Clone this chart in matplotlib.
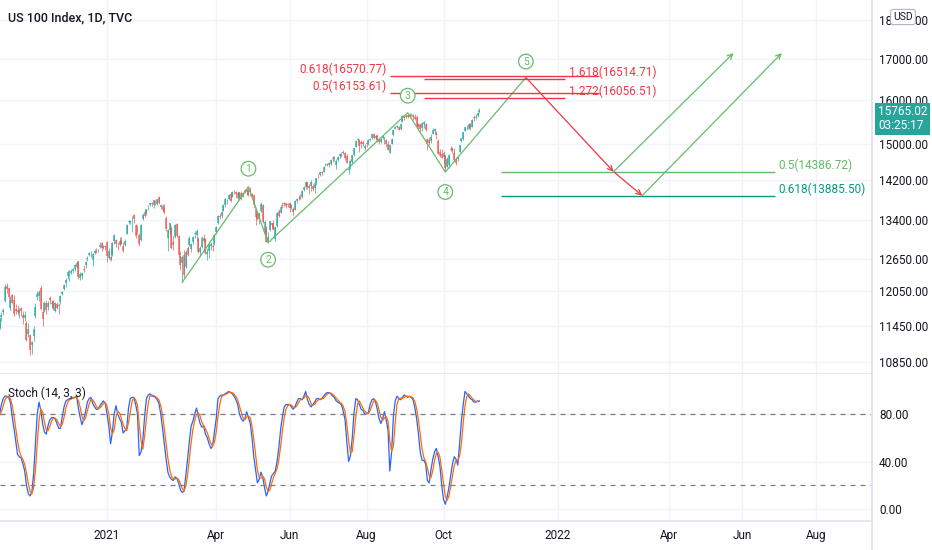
import numpy as np
import pandas as pd
import matplotlib
matplotlib.use("Agg")
import matplotlib.pyplot as plt
from matplotlib.lines import Line2D
from matplotlib.ticker import FixedLocator, NullLocator
from matplotlib.transforms import blended_transform_factory

plt.rcParams["font.family"] = ["Roboto", "DejaVu Sans"]

# --- trading calendar (daily bars, NYSE holidays) ---
HOLIDAYS = ["2020-11-26", "2020-12-25", "2021-01-01", "2021-01-18", "2021-02-15",
            "2021-04-02", "2021-05-31", "2021-07-05", "2021-09-06", "2021-11-25",
            "2021-12-24", "2022-01-17", "2022-02-21", "2022-04-15", "2022-05-30",
            "2022-06-20", "2022-07-04"]
dates = pd.bdate_range("2020-10-06", "2022-09-30", freq="C", holidays=HOLIDAYS)

# --- US 100 daily OHLC, Oct 2020 .. Oct 2021 ---
opens = [
    11560, 11420, 11600, 11680, 11880, 12140, 12110, 11750, 11980, 11890, 11740, 11720, 11670, 11760, 11640, 11580, 11500, 11320, 11300,
    11130, 11270, 11620, 11950, 11970, 12110, 11680, 11700, 11840, 11780, 11940, 11820, 11870, 11700, 11830, 11800, 11860, 12000, 12100, 12200,
    12320, 12390, 12390, 12420, 12450, 12500, 12600, 12290, 12330, 12450, 12520, 12650, 12710, 12760, 12620, 12760, 12800, 12790, 12860, 12940, 12890, 12860,
    12960, 12660, 12680, 12720, 12990, 13000, 12910, 12900, 13010, 12890, 12910, 13120, 13350, 13350, 13430, 13500, 13300, 13190, 13100,
    13010, 13410, 13560, 13540, 13650, 13700, 13710, 13790, 13760, 13720, 13850, 13660, 13680, 13640, 13440, 13040, 13190, 13240, 12970,
    13060, 13320, 13070, 12700, 12560, 12720, 12500, 12850, 12900, 12830, 12960, 13120, 13100, 13030, 12780, 12870, 13050, 13020, 12740, 12800, 12880, 12880, 12920,
    13160, 13330, 13480, 13470, 13580, 13700, 13780, 13820, 13920, 13860, 13990, 13950, 13930, 13840, 13940, 13860, 13960, 14000, 13980, 14030, 13910,
    13890, 13620, 13510, 13410, 13580, 13690, 13140, 13230, 13010, 13200, 13330, 13330, 13030, 13270, 13570, 13540, 13700, 13710, 13730, 13720,
    13730, 13640, 13620, 13600, 13770, 13840, 13860, 13850, 14010, 14070, 14160, 14080, 14090, 14080, 14040, 14140, 14280, 14310, 14380, 14380, 14530, 14530,
    14580, 14560, 14680, 14680, 14520, 14640, 14720, 14720, 14810, 14800, 14720, 14430, 14480, 14590, 14750, 14930, 15070, 15080, 15030, 15030, 14900,
    15020, 15010, 15080, 15130, 15210, 15120, 15180, 15090, 15030, 15130, 15120, 15080, 15000, 14800, 15000, 15180, 15330, 15380, 15370, 15320, 15490, 15630,
    15620, 15640, 15610, 15660, 15640, 15590, 15610, 15440, 15430, 15350, 15430, 15450, 15100, 15080, 15050, 15220, 15280, 15240, 15060, 14810, 14770,
    14710, 14740, 14490, 14530, 14860, 14900, 14800, 14650, 14650, 14820, 15060, 15090, 15290, 15380, 15330, 15440, 15380, 15610, 15580, 15620, 15720,
]
highs = [
    11600, 11600, 11680, 11760, 12180, 12200, 12130, 11960, 12010, 11980, 11830, 11810, 11760, 11780, 11700, 11700, 11530, 11500, 11320,
    11200, 11450, 11850, 12050, 12080, 12170, 11720, 11870, 11890, 11880, 11960, 11900, 11900, 11860, 11860, 11850, 11980, 12060, 12180, 12290,
    12430, 12430, 12450, 12470, 12540, 12580, 12610, 12400, 12400, 12520, 12600, 12690, 12770, 12790, 12760, 12830, 12850, 12830, 12960, 12970, 12910, 12900,
    12980, 12840, 12840, 12960, 13110, 13020, 12970, 13060, 13060, 12960, 13020, 13310, 13400, 13390, 13470, 13520, 13310, 13300, 13130,
    13310, 13540, 13590, 13620, 13690, 13740, 13760, 13800, 13790, 13820, 13880, 13720, 13710, 13720, 13480, 13210, 13340, 13280, 13080,
    13310, 13340, 13100, 12800, 12690, 12820, 12820, 12890, 13080, 12940, 13070, 13180, 13220, 13060, 12880, 13070, 13120, 13040, 12840, 12930, 12960, 12920, 13120,
    13270, 13500, 13530, 13570, 13710, 13830, 13820, 13920, 13950, 13990, 14010, 13990, 13980, 13960, 13980, 13960, 14030, 14040, 14070, 14060, 13930,
    13900, 13640, 13570, 13540, 13750, 13710, 13390, 13280, 13160, 13380, 13340, 13400, 13280, 13550, 13620, 13670, 13760, 13760, 13740, 13740,
    13740, 13720, 13650, 13790, 13840, 13890, 13910, 14010, 14080, 14180, 14170, 14120, 14210, 14130, 14150, 14260, 14340, 14380, 14400, 14500, 14580, 14580,
    14590, 14650, 14720, 14720, 14660, 14720, 14780, 14810, 14850, 14810, 14760, 14500, 14650, 14750, 14910, 15070, 15120, 15090, 15080, 15080, 14980,
    15040, 15090, 15130, 15220, 15230, 15170, 15190, 15110, 15120, 15170, 15150, 15090, 15060, 15000, 15130, 15320, 15400, 15410, 15390, 15460, 15640, 15640,
    15660, 15680, 15690, 15700, 15660, 15660, 15640, 15460, 15450, 15480, 15500, 15460, 15120, 15150, 15220, 15340, 15350, 15290, 15100, 14870, 14880,
    14830, 14750, 14710, 14770, 14950, 14920, 14900, 14700, 14740, 14970, 15130, 15260, 15380, 15420, 15460, 15470, 15550, 15650, 15660, 15720, 15800,
]
lows = [
    11340, 11400, 11540, 11640, 11860, 12020, 11900, 11720, 11840, 11620, 11650, 11640, 11580, 11620, 11480, 11540, 11200, 11260, 10960,
    10980, 11200, 11580, 11900, 11880, 11720, 11450, 11690, 11650, 11720, 11820, 11780, 11720, 11680, 11740, 11650, 11830, 11980, 12080, 12120,
    12280, 12240, 12360, 12380, 12420, 12470, 12270, 12250, 12270, 12400, 12470, 12610, 12690, 12680, 12510, 12740, 12750, 12780, 12850, 12790, 12830, 12820,
    12580, 12650, 12610, 12700, 12930, 12870, 12820, 12880, 12920, 12770, 12880, 13110, 13320, 13310, 13160, 13340, 13040, 13110, 12880,
    12980, 13400, 13460, 13490, 13600, 13670, 13680, 13640, 13700, 13690, 13720, 13620, 13560, 13520, 13180, 12800, 13100, 12830, 12820,
    13040, 13060, 12700, 12440, 12210, 12290, 12480, 12700, 12880, 12770, 12920, 13050, 12990, 12760, 12700, 12850, 12950, 12740, 12630, 12660, 12810, 12800, 12910,
    13120, 13320, 13420, 13440, 13570, 13660, 13720, 13800, 13760, 13850, 13920, 13840, 13800, 13790, 13800, 13850, 13940, 13900, 13880, 13870, 13840,
    13640, 13290, 13400, 13320, 13560, 13340, 13090, 12960, 12950, 13180, 13210, 13200, 12990, 13260, 13450, 13530, 13640, 13680, 13630, 13660,
    13560, 13620, 13470, 13590, 13730, 13800, 13810, 13840, 13990, 14030, 14020, 13920, 13990, 13990, 13940, 14110, 14260, 14290, 14320, 14370, 14510, 14510,
    14480, 14540, 14590, 14620, 14450, 14610, 14690, 14700, 14760, 14640, 14570, 14330, 14440, 14560, 14720, 14920, 15030, 14820, 14910, 14940, 14850,
    14920, 14960, 15060, 15100, 15100, 15080, 15040, 14990, 15010, 15090, 15000, 14920, 14850, 14780, 14990, 15170, 15320, 15350, 15300, 15300, 15480, 15540,
    15570, 15570, 15590, 15620, 15540, 15540, 15360, 15300, 15230, 15280, 15340, 15270, 14850, 14970, 15010, 15210, 15230, 15110, 14760, 14710, 14680,
    14570, 14400, 14480, 14460, 14840, 14800, 14620, 14530, 14620, 14810, 15040, 15080, 15270, 15310, 15320, 15310, 15370, 15510, 15560, 15600, 15700,
]
closes = [
    11365, 11570, 11640, 11720, 12120, 12090, 11950, 11900, 11850, 11660, 11700, 11680, 11720, 11700, 11580, 11640, 11220, 11400, 11050,
    11180, 11400, 11780, 12000, 12030, 11740, 11560, 11850, 11720, 11840, 11890, 11840, 11730, 11840, 11760, 11790, 11960, 12040, 12160, 12260,
    12400, 12390, 12410, 12460, 12520, 12560, 12300, 12370, 12380, 12440, 12590, 12660, 12750, 12760, 12740, 12800, 12770, 12800, 12900, 12850, 12850, 12890,
    12690, 12800, 12620, 12940, 13100, 12920, 12900, 12990, 12930, 12800, 12990, 13300, 13380, 13370, 13440, 13410, 13070, 13170, 12930,
    13300, 13500, 13480, 13610, 13660, 13730, 13740, 13700, 13760, 13810, 13740, 13690, 13600, 13550, 13210, 13200, 13330, 12840, 12910,
    13300, 13080, 12710, 12520, 12670, 12350, 12780, 12720, 13050, 12920, 13060, 13140, 13180, 12770, 12840, 13040, 12990, 12750, 12780, 12920, 12920, 12860, 13090,
    13260, 13480, 13460, 13560, 13700, 13820, 13780, 13900, 13770, 13970, 13980, 13910, 13830, 13950, 13820, 13940, 14010, 13950, 13900, 13970, 13870,
    13700, 13460, 13420, 13530, 13720, 13360, 13360, 12970, 13060, 13370, 13300, 13220, 13250, 13530, 13470, 13660, 13680, 13730, 13680, 13690,
    13630, 13690, 13550, 13770, 13820, 13830, 13820, 13990, 14070, 14170, 14070, 14040, 14160, 14020, 14140, 14250, 14270, 14370, 14360, 14490, 14530, 14550,
    14520, 14640, 14670, 14700, 14610, 14700, 14760, 14750, 14790, 14680, 14580, 14450, 14610, 14740, 14900, 15060, 15090, 14940, 14990, 15000, 14940,
    15000, 15080, 15100, 15210, 15130, 15160, 15080, 15040, 15110, 15160, 15140, 14990, 14860, 14960, 15110, 15310, 15370, 15390, 15310, 15440, 15620, 15580,
    15610, 15600, 15650, 15670, 15610, 15560, 15370, 15360, 15330, 15460, 15480, 15300, 14990, 15010, 15150, 15310, 15330, 15200, 14770, 14730, 14690,
    14790, 14470, 14650, 14750, 14870, 14830, 14630, 14570, 14690, 14960, 15120, 15250, 15370, 15380, 15450, 15340, 15530, 15580, 15600, 15700, 15765.02,
]

# --- Stoch (14, 3, 3) %K, read per bar ---
stoch_k = [
    78, 80, 88, 93, 95, 95, 94, 90, 78, 68, 57, 46, 44, 43, 38, 32, 20, 13, 11, 14,
    30, 55, 80, 90, 83, 72, 65, 63, 70, 75, 77, 77, 76, 72, 68, 68, 78, 86, 91, 92,
    93, 93, 94, 94, 95, 85, 77, 71, 76, 82, 90, 93, 94, 89, 86, 84, 84, 87, 89, 91,
    89, 80, 70, 55, 65, 80, 87, 80, 76, 73, 64, 66, 68, 85, 93, 94, 94, 88, 80, 45,
    48, 58, 78, 93, 96, 97, 95, 95, 94, 92, 89, 80, 68, 55, 42, 31, 27, 25, 24, 27,
    26, 22, 16, 14, 15, 28, 42, 57, 70, 74, 80, 85, 78, 72, 69, 70, 63, 60, 55, 51,
    53, 65, 76, 93, 95, 96, 96, 97, 98, 99, 98, 97, 95, 92, 88, 80, 76, 74, 76, 82,
    77, 72, 60, 44, 33, 22, 25, 31, 27, 18, 11, 15, 22, 28, 30, 32, 40, 52, 67, 78,
    86, 88, 88, 88, 86, 84, 86, 90, 93, 93, 92, 95, 99, 92, 88, 86, 88, 90, 93, 93,
    92, 93, 95, 97, 98, 98, 97, 95, 94, 91, 90, 89, 88, 82, 75, 56, 40, 45, 60, 81,
    93, 92, 88, 84, 83, 80, 80, 81, 88, 92, 93, 90, 84, 76, 72, 76, 82, 75, 66, 32,
    48, 78, 91, 95, 93, 92, 94, 96, 95, 94, 95, 94, 92, 85, 76, 63, 48, 41, 41, 38,
    24, 22, 33, 42, 48, 51, 44, 36, 20, 8, 4, 10, 18, 28, 38, 44, 42, 37, 55, 74,
    88, 99, 97, 95, 93, 92, 90, 90, 91, 91,
]

# --- Elliott wave drawing (bar index, price) ---
wave_bars = [103, 140, 151, 229, 250, 295]
wave_prices = [12210, 14070, 12950, 15700, 14380, 16540]
wave_names = ["", "1", "2", "3", "4", "5"]
target_bars = [344, 360]
target_prices = [14386.72, 13885.50]
rebound_tops = [411, 438]
rebound_price = 17150

# fib levels
fib_left = [(16570.77, "0.618(16570.77)"), (16153.61, "0.5(16153.61)")]
fib_right = [(16514.71, "1.618(16514.71)"), (16056.51, "1.272(16056.51)")]
fib_low = [(14386.72, "0.5(14386.72)"), (13885.50, "0.618(13885.50)")]

price_ticks = [10850, 11450, 12050, 12650, 13400, 14200, 15000, 16000, 17000, 18000]
stoch_ticks = [0, 40, 80]
tick_months = ["2021-01", "2021-04", "2021-06", "2021-08", "2021-10",
               "2022-01", "2022-04", "2022-06", "2022-08"]
tick_names = ["2021", "Apr", "Jun", "Aug", "Oct", "2022", "Apr", "Jun", "Aug"]

UP, DOWN = "#26a69a", "#ef5350"
GREEN, TEAL, RED = "#66bb6a", "#089981", "#f23645"
TXT, GRID, AXL = "#131722", "#f0f3fa", "#e0e3eb"

fig = plt.figure(figsize=(9.32, 5.5), dpi=100)
W = 872 / 932
ax = fig.add_axes([0, 176 / 550, W, 374 / 550])
ax2 = fig.add_axes([0, 29 / 550, W, 147 / 550], sharex=ax)

x = np.arange(len(closes))
o, h, l, c = map(np.array, (opens, highs, lows, closes))
cols = np.where(c >= o, UP, DOWN)
ax.vlines(x, l, h, colors=cols, lw=0.6, alpha=0.8)
ax.vlines(x, np.minimum(o, c), np.maximum(o, c), colors=cols, lw=1.2, alpha=0.8)

ax.set_yscale("log")
ax.set_ylim(10661, 18553)
ax.set_xlim(1.2, 488.4)
ax.yaxis.set_major_locator(FixedLocator(price_ticks))
ax.yaxis.set_minor_locator(NullLocator())
ax.set_yticklabels([f"{v:.2f}" for v in price_ticks])
ax.yaxis.tick_right()
ax.tick_params(axis="y", length=0, pad=5, labelsize=8.5, labelcolor=TXT)
ax.tick_params(axis="x", bottom=False, labelbottom=False)

tick_pos = [dates.searchsorted(pd.Timestamp(m)) for m in tick_months]
ax2.set_xticks(tick_pos)
ax2.set_xticklabels(tick_names)
ax2.tick_params(axis="x", length=0, pad=6, labelsize=8.5, labelcolor=TXT)

for a in (ax, ax2):
    a.grid(True, color=GRID, lw=1)
    a.set_axisbelow(True)
    for s in ("top", "left"):
        a.spines[s].set_visible(False)
    for s in ("right", "bottom"):
        a.spines[s].set_color(AXL)
        a.spines[s].set_linewidth(1.2)

# wave zig-zag
ax.plot(wave_bars, wave_prices, color=GREEN, lw=0.9)
offs = [0, 18, -17, 17, -20, 16]
for b, p, name, dy in zip(wave_bars, wave_prices, wave_names, offs):
    if name:
        ax.annotate(name, (b, p), xytext=(0, dy), textcoords="offset pixels",
                    ha="center", va="center", fontsize=7.5, color=GREEN,
                    bbox=dict(boxstyle="circle,pad=0.22", fc="white", ec=GREEN, lw=0.9))

# projected path
arrow = dict(arrowstyle="->", lw=0.9, shrinkA=0, shrinkB=0, mutation_scale=9)
ax.annotate("", (target_bars[0], target_prices[0]), (wave_bars[-1], wave_prices[-1]),
            arrowprops=dict(arrow, color=RED))
ax.annotate("", (target_bars[1], target_prices[1]), (target_bars[0], target_prices[0]),
            arrowprops=dict(arrow, color=RED))
for b, p, top in zip(target_bars, target_prices, rebound_tops):
    ax.annotate("", (top, rebound_price), (b, p), arrowprops=dict(arrow, color=GREEN))

# fib levels
for v, t in fib_left:
    ax.hlines(v, 219, 336, color=RED, lw=1)
    ax.text(217, v, t, ha="right", va="bottom", fontsize=8.5, color=RED)
for v, t in fib_right:
    ax.hlines(v, 238, 317, color=RED, lw=1)
    ax.text(319, v, t, ha="left", va="bottom", fontsize=8.5, color=RED)
for (v, t), col in zip(fib_low, (GREEN, TEAL)):
    ax.hlines(v, 281, 434, color=col, lw=1)
    ax.text(436, v, t, ha="left", va="bottom", fontsize=8.5, color=col)

ax.text(0.009, 0.952, "US 100 Index, 1D, TVC", transform=ax.transAxes, fontsize=9,
        fontweight="medium", color=TXT, va="center")

# last price badge and currency box
bt = blended_transform_factory(ax.transAxes, ax.transData)
ax.annotate(f"{closes[-1]:.2f}\n03:25:17", (1.0, closes[-1]), xycoords=bt,
            xytext=(6, -9), textcoords="offset pixels", ha="left", va="center",
            fontsize=8.5, color="white", linespacing=1.1,
            bbox=dict(boxstyle="square,pad=0.22", fc=UP, ec="none"), annotation_clip=False)
ax.text(903 / 872, 1 - 17 / 374, "USD", transform=ax.transAxes, ha="center", va="center",
        fontsize=7.5, color=TXT, bbox=dict(boxstyle="round,pad=0.25", fc="white", ec="#b2b5be", lw=0.8))

# stochastic pane
k = pd.Series(stoch_k, dtype=float)
d = k.rolling(3, min_periods=1).mean()
ax2.plot(x, k, color="#2962ff", lw=0.9)
ax2.plot(x, d, color="#ff6d00", lw=0.9)
for lvl in (80, 20):
    ax2.axhline(lvl, color="#787b86", lw=0.9, ls=(0, (4, 4)))
ax2.set_ylim(-10.1, 113.7)
ax2.yaxis.set_major_locator(FixedLocator(stoch_ticks))
ax2.set_yticklabels([f"{v:.2f}" for v in stoch_ticks])
ax2.yaxis.tick_right()
ax2.tick_params(axis="y", length=0, pad=5, labelsize=8.5, labelcolor=TXT)
ax2.text(0.009, 0.87, "Stoch (14, 3, 3)", transform=ax2.transAxes, fontsize=8.5,
         color=TXT, va="center")

fig.add_artist(Line2D([W, W], [0, 1], transform=fig.transFigure, color=AXL, lw=1.2))

fig.savefig("out.png", dpi=100)
